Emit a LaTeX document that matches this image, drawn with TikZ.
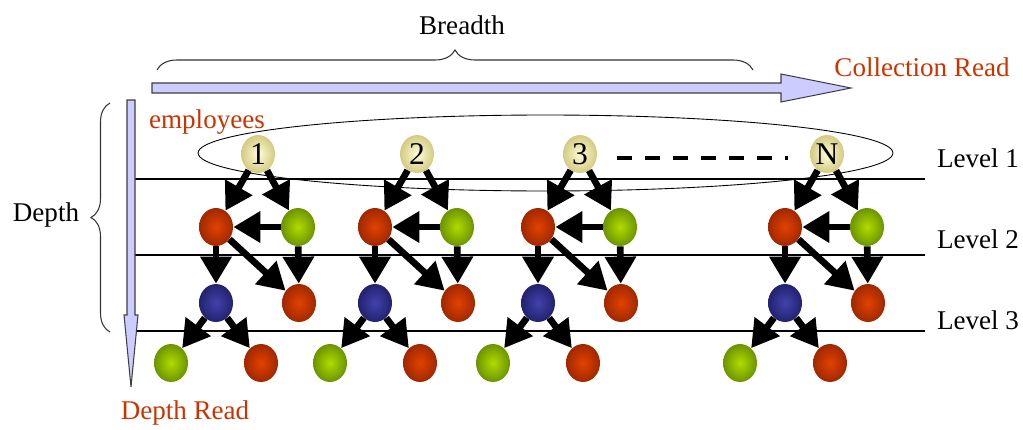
\documentclass[tikz,border=0pt]{standalone}
\usepackage{fontspec}
\setmainfont{Liberation Serif}
\usetikzlibrary{arrows.meta,shapes.geometric,decorations.pathreplacing}
\definecolor{readFill}{RGB}{204,204,255}
\definecolor{readText}{RGB}{204,51,0}
\definecolor{rootIn}{RGB}{255,253,215}
\definecolor{rootOut}{RGB}{212,202,130}
\definecolor{redIn}{RGB}{226,66,0}
\definecolor{redOut}{RGB}{160,40,0}
\definecolor{greenIn}{RGB}{176,220,0}
\definecolor{greenOut}{RGB}{108,148,0}
\definecolor{blueIn}{RGB}{66,66,172}
\definecolor{blueOut}{RGB}{34,34,110}
\newcommand\colorLevelline{black}
\newcommand\levelLeft{135}
\newcommand\levelRight{925}
\newcommand\rootY{154}
\tikzset{
	ball/.style={ellipse, minimum width=0.68cm, minimum height=0.76cm, inner sep=0pt},
	rootball/.style={ball, shade, inner color=rootIn, outer color=rootOut, font=\fontsize{18}{20}\selectfont},
	redball/.style={ball, shade, inner color=redIn, outer color=redOut},
	greenball/.style={ball, shade, inner color=greenIn, outer color=greenOut},
	blueball/.style={ball, shade, inner color=blueIn, outer color=blueOut},
	flow/.style={-{Triangle[length=0.54cm,width=0.6cm]}, line width=3.8pt},
	readarrow/.style={fill=readFill, draw=black!75, line width=0.6pt},
	readlabel/.style={text=readText},
	levellabel/.style={},
	bracket/.style={decorate, decoration={brace, amplitude=#1}, line width=0.6pt, color=black!80},
	gapline/.style={line width=2.3pt, dash pattern=on 0.3cm off 0.26cm}
}
\newcommand\drawLevelLines{
	\foreach \ly/\ty/\lvl in {179/158/1,255/239/2,331/320/3}{
		\draw[color=\colorLevelline, line width=0.85pt]
		(\levelLeft,\ly) to (\levelRight,\ly);
		\node[levellabel] (level\lvl) at (978,\ty) {Level \lvl};
	}
}

\begin{document}
\begin{tikzpicture}[x=0.02cm, y=-0.02cm, font=\fontsize{15.4}{18}\selectfont]
	\useasboundingbox (0,0) rectangle (1023,429);
	\node[draw, ellipse, minimum width=13.9cm, minimum height=1.52cm, inner sep=0pt, line width=0.5pt]
		(employeeset) at (545.5,153) {};
	\drawLevelLines
	
	\draw[readarrow] (152,83) -- (781,83) -- (781,74) -- (851,88) -- (781,102) -- (781,93) -- (152,93) -- cycle;
	\draw[readarrow] (127,100) -- (135,100) -- (135,315) -- (138,315) -- (131,387) -- (124,315) -- (127,315) -- cycle;
	\draw[bracket=0.4cm] (157,70) to (753,70);
	\draw[bracket=0.38cm] (110,332) to (110,103);
	
	\node (breadth) at (462,25) {Breadth};
	\node (depth) at (46,215) {Depth};
	\node[readlabel] (collectionread) at (922,67) {Collection Read};
	\node[readlabel] (employees) at (207,122) {employees};
	\node[readlabel] (depthread) at (185,413) {Depth Read};
	
	\foreach \tx/\lab/\id in {258/1/a,417/2/b,580/3/c,827/N/d}{
		\node[rootball] (emp\id) at (\tx,\rootY) {\lab};
		\node[redball] (redtwo\id) at (\tx-42,227) {};
		\node[greenball] (greentwo\id) at (\tx+40,227) {};
		\node[blueball] (bluethree\id) at (\tx-42,303) {};
		\node[redball] (redthree\id) at (\tx+41,303) {};
		\node[greenball] (greenfour\id) at (\tx-87,363) {};
		\node[redball] (redfour\id) at (\tx+3,363) {};
		\draw[flow] (emp\id) to (redtwo\id);
		\draw[flow] (emp\id) to (greentwo\id);
		\draw[flow] (greentwo\id) to (redtwo\id);
		\draw[flow] (redtwo\id) to (bluethree\id);
		\draw[flow] (redtwo\id) to (redthree\id);
		\draw[flow] (greentwo\id) to (redthree\id);
		\draw[flow] (bluethree\id) to (greenfour\id);
		\draw[flow] (bluethree\id) to (redfour\id);
	}
	
	\coordinate (gapstart) at (617,158);
	\coordinate (gapend) at (788,158);
	\draw[gapline] (gapstart) to (gapend);
\end{tikzpicture}
\end{document}
